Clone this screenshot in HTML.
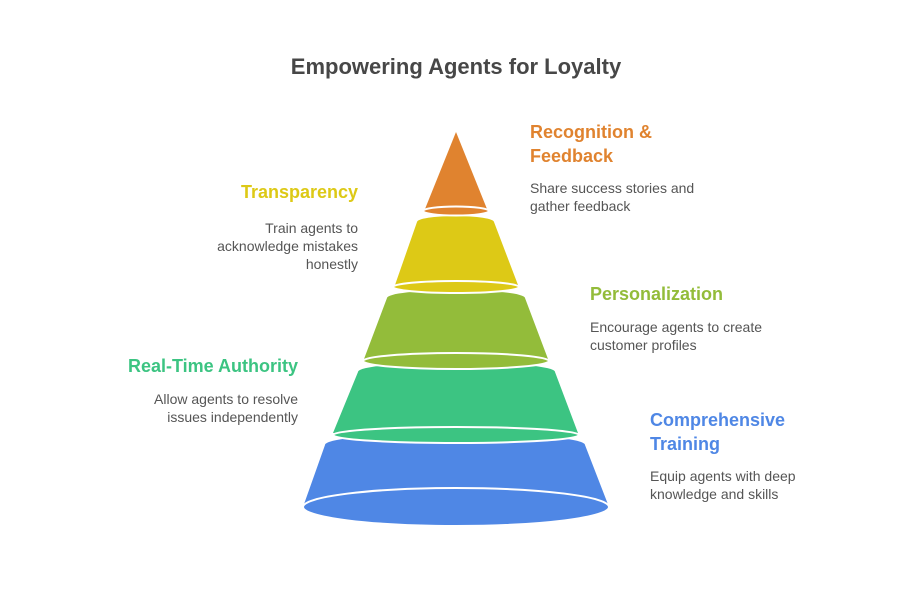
<!DOCTYPE html>
<html><head><meta charset="utf-8"><style>
html,body{margin:0;padding:0;background:#fff;width:912px;height:612px;overflow:hidden}
svg{display:block}
text{font-family:"Liberation Sans",Arial,sans-serif}
.h{font-weight:bold;font-size:18px}
.d{font-size:14px;fill:#555}
</style></head><body>
<svg width="912" height="612" viewBox="0 0 912 612" xmlns="http://www.w3.org/2000/svg">
<text x="456" y="74" text-anchor="middle" font-weight="bold" font-size="22" fill="#474747">Empowering Agents for Loyalty</text>

<!-- blue -->
<path d="M325,445 A130,12 0 0 1 585,445 L609,507 L303,507 Z" fill="#4F87E5"/>
<ellipse cx="456" cy="507" rx="153" ry="19" fill="#4F87E5" stroke="#fff" stroke-width="2"/>
<!-- teal -->
<path d="M358,372 A98.5,10 0 0 1 555,372 L578,433 L333,433 Z" fill="#3CC482"/>
<ellipse cx="456" cy="435" rx="123" ry="8" fill="#3CC482" stroke="#fff" stroke-width="2"/>
<!-- lime -->
<path d="M387,298 A69,8 0 0 1 525,298 L548,359 L364,359 Z" fill="#93BC3A"/>
<ellipse cx="456" cy="361" rx="93" ry="8" fill="#93BC3A" stroke="#fff" stroke-width="2"/>
<!-- yellow -->
<path d="M417,222 A38.5,6 0 0 1 494,222 L518,285 L395,285 Z" fill="#DDC916"/>
<ellipse cx="456" cy="287" rx="63" ry="6" fill="#DDC916" stroke="#fff" stroke-width="2"/>
<!-- orange -->
<path d="M456,132 L487,209 L425,209 Z" fill="#E0832F"/>
<ellipse cx="456" cy="211" rx="33" ry="4.5" fill="#E0832F" stroke="#fff" stroke-width="2"/>

<text class="h" x="530" y="138" fill="#E0832F">Recognition &amp;</text>
<text class="h" x="530" y="162" fill="#E0832F">Feedback</text>
<text class="d" x="530" y="193">Share success stories and</text>
<text class="d" x="530" y="211">gather feedback</text>

<text class="h" x="358" y="198" text-anchor="end" fill="#DDC916">Transparency</text>
<text class="d" x="358" y="233" text-anchor="end">Train agents to</text>
<text class="d" x="358" y="251" text-anchor="end">acknowledge mistakes</text>
<text class="d" x="358" y="269" text-anchor="end">honestly</text>

<text class="h" x="590" y="300" fill="#93BC3A">Personalization</text>
<text class="d" x="590" y="332">Encourage agents to create</text>
<text class="d" x="590" y="350">customer profiles</text>

<text class="h" x="298" y="372" text-anchor="end" fill="#3CC482">Real-Time Authority</text>
<text class="d" x="298" y="404" text-anchor="end">Allow agents to resolve</text>
<text class="d" x="298" y="422" text-anchor="end">issues independently</text>

<text class="h" x="650" y="426" fill="#4F87E5">Comprehensive</text>
<text class="h" x="650" y="450" fill="#4F87E5">Training</text>
<text class="d" x="650" y="481">Equip agents with deep</text>
<text class="d" x="650" y="499">knowledge and skills</text>
</svg>
</body></html>
